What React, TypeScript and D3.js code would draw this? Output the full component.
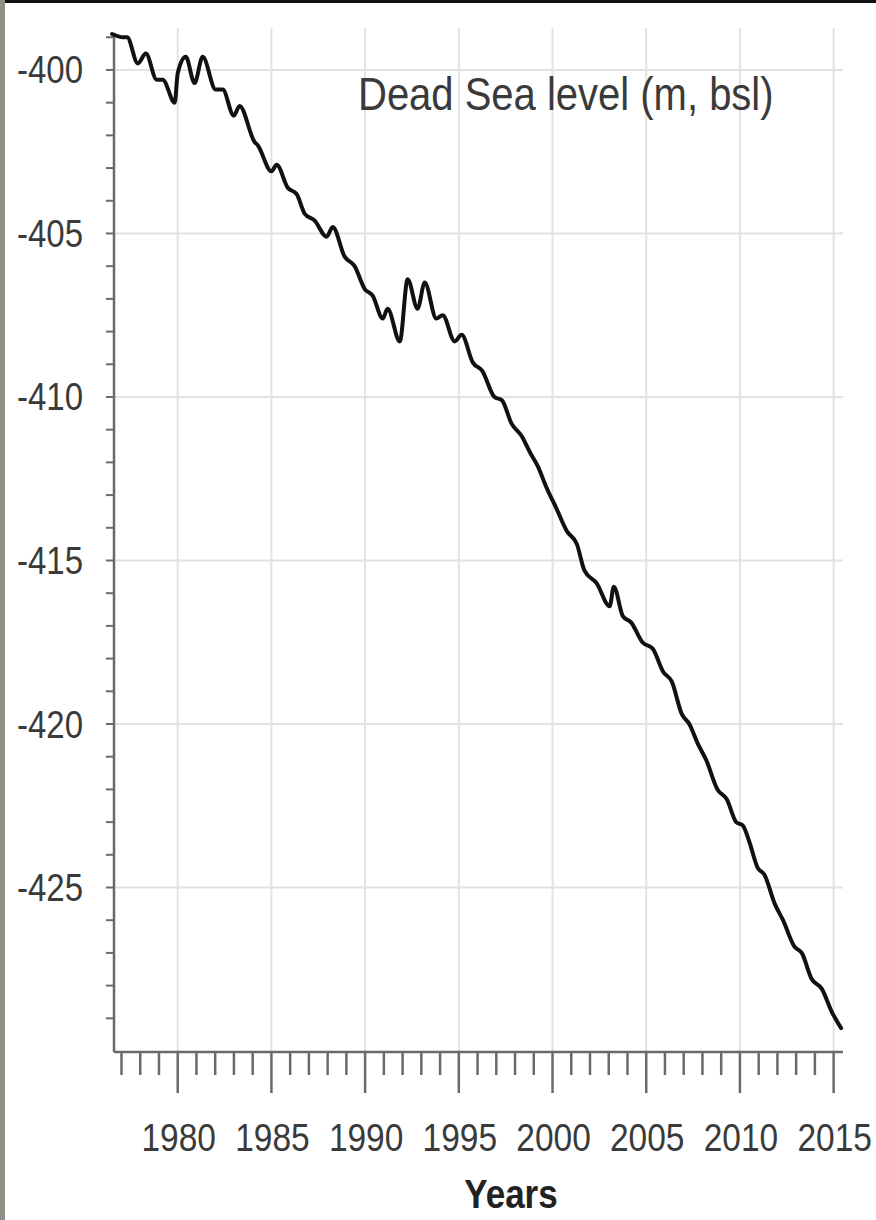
import React from "react";
import * as d3 from "d3";

const years: number[] = [
  1976.5, 1977.07, 1977.3, 1977.87, 1978.3, 1978.88, 1979.2, 1979.84, 1980.0, 1980.43,
  1980.9, 1981.33, 1982.03, 1982.4, 1982.99, 1983.3, 1984.1, 1984.27, 1985.0, 1985.28,
  1985.87, 1986.35, 1986.78, 1987.3, 1987.95, 1988.27, 1988.9, 1989.44, 1989.98, 1990.4,
  1990.94, 1991.2, 1991.85, 1992.27, 1992.8, 1993.18, 1993.8, 1994.14, 1994.78, 1995.15,
  1995.75, 1996.25, 1996.9, 1997.3, 1997.8, 1998.36, 1998.8, 1999.2, 1999.7, 2000.2,
  2000.76, 2001.3, 2001.7, 2002.36, 2003.05, 2003.27, 2003.75, 2004.2, 2004.8, 2005.35,
  2005.9, 2006.36, 2006.9, 2007.3, 2007.75, 2008.2, 2008.8, 2009.3, 2009.8, 2010.15,
  2010.5, 2010.95, 2011.3, 2011.86, 2012.3, 2012.9, 2013.3, 2013.83, 2014.37, 2014.9,
  2015.4,
];

const levels: number[] = [
  -398.9, -399.0, -399.0, -399.8, -399.5, -400.3, -400.3, -401.0, -400.1, -399.6,
  -400.4, -399.6, -400.6, -400.6, -401.4, -401.1, -402.2, -402.3, -403.1, -402.9,
  -403.6, -403.8, -404.4, -404.6, -405.1, -404.8, -405.7, -406.0, -406.7, -406.9,
  -407.6, -407.3, -408.3, -406.4, -407.3, -406.5, -407.6, -407.5, -408.3, -408.1,
  -408.95, -409.2, -410.0, -410.1, -410.8, -411.2, -411.7, -412.1, -412.8, -413.4,
  -414.1, -414.5, -415.3, -415.7, -416.4, -415.8, -416.7, -416.9, -417.5, -417.7,
  -418.4, -418.7, -419.7, -420.0, -420.6, -421.1, -422.0, -422.3, -423.0, -423.1,
  -423.6, -424.4, -424.6, -425.5, -426.0, -426.8, -427.0, -427.8, -428.1, -428.8,
  -429.3,
];

const xMajorTicks: number[] = [1980, 1985, 1990, 1995, 2000, 2005, 2010, 2015];
const yMajorTicks: number[] = [-400, -405, -410, -415, -420, -425];
const titleText = "Dead Sea level (m, bsl)";
const xTitle = "Years";

const W = 876;
const H = 1220;
const FONT = "'Liberation Sans', Arial, Helvetica, sans-serif";
const STRETCH = 1.17;

export default function App() {
  const left = 114;
  const right = 843;
  const top = 33;
  const bottom = 1052;

  const x = d3.scaleLinear().domain([1976.6, 2015.5]).range([left, right]);
  const y = d3.scaleLinear().domain([-398.87, -430.03]).range([top, bottom]);

  const xMinor = d3.range(1977, 2016).filter((v) => v % 5 !== 0);
  const yMinor = d3.range(-399, -430, -1);

  const data = years.map((yr, i) => ({ yr, lv: levels[i] }));
  const line = d3
    .line<{ yr: number; lv: number }>()
    .x((d) => x(d.yr))
    .y((d) => y(d.lv))
    .curve(d3.curveMonotoneX);

  const axisColor = "#6a6a6a";
  const gridColor = "#e2e2e2";
  const textColor = "#3a3a3a";

  return (
    <svg
      width={W}
      height={H}
      style={{ position: "absolute", left: 0, top: 0, background: "#fff" }}
    >
      <rect x={0} y={0} width={W} height={H} fill="#fff" />
      {/* grid */}
      {xMajorTicks.map((t) => (
        <line key={"gx" + t} x1={x(t)} x2={x(t)} y1={28} y2={bottom} stroke={gridColor} strokeWidth={2} />
      ))}
      {yMajorTicks.map((t) => (
        <line key={"gy" + t} x1={left} x2={right} y1={y(t)} y2={y(t)} stroke={gridColor} strokeWidth={2} />
      ))}

      {/* y axis */}
      <line x1={left} x2={left} y1={top} y2={bottom} stroke={axisColor} strokeWidth={2.5} />
      {yMinor.map((t) => (
        <line key={"yt" + t} x1={left - 8} x2={left} y1={y(t)} y2={y(t)} stroke={axisColor} strokeWidth={2} />
      ))}
      {yMajorTicks.map((t) => (
        <text
          key={"yl" + t}
          transform={`translate(83,${y(t)}) scale(1,${STRETCH})`}
          textAnchor="end"
          dy="0.35em"
          fontFamily={FONT}
          fontSize={33}
          fill={textColor}
        >
          {t}
        </text>
      ))}

      {/* x axis */}
      <line x1={left} x2={right} y1={bottom} y2={bottom} stroke={axisColor} strokeWidth={2.5} />
      {xMinor.map((t) => (
        <line key={"xt" + t} x1={x(t)} x2={x(t)} y1={bottom} y2={bottom + 23} stroke={axisColor} strokeWidth={2.5} />
      ))}
      {xMajorTicks.map((t) => (
        <line key={"xT" + t} x1={x(t)} x2={x(t)} y1={bottom} y2={bottom + 41} stroke={axisColor} strokeWidth={2.5} />
      ))}
      {xMajorTicks.map((t) => (
        <text
          key={"xl" + t}
          transform={`translate(${x(t) + 1},1137) scale(1,${STRETCH})`}
          textAnchor="middle"
          dy="0.35em"
          fontFamily={FONT}
          fontSize={33.5}
          fill={textColor}
        >
          {t}
        </text>
      ))}

      {/* data line */}
      <path d={line(data) || ""} fill="none" stroke="#111" strokeWidth={4} strokeLinejoin="round" strokeLinecap="round" />

      {/* title */}
      <text
        transform={`translate(358,110) scale(1,${STRETCH})`}
        fontFamily={FONT}
        fontSize={40}
        fill={textColor}
      >
        {titleText}
      </text>
      <text
        transform={`translate(511,1208) scale(1,${STRETCH})`}
        textAnchor="middle"
        fontFamily={FONT}
        fontSize={35}
        fontWeight="bold"
        fill="#222"
      >
        {xTitle}
      </text>

      {/* photo edges */}
      <rect x={0} y={0} width={W} height={3} fill="#111" />
      <rect x={0} y={0} width={5} height={H} fill="#8b9184" />
    </svg>
  );
}
